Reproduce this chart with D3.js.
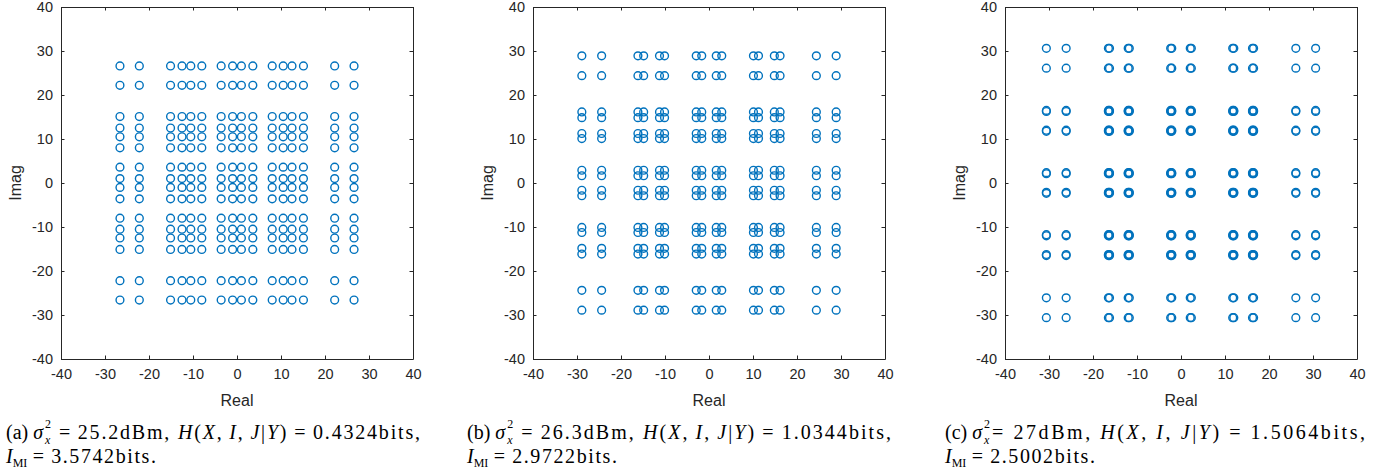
<!DOCTYPE html>
<html>
<head>
<meta charset="utf-8">
<script src="https://cdn.jsdelivr.net/npm/d3@7"></script>
<style>
  body { margin: 0; background: #fff; }
  .tick text { font-family: "Liberation Sans", Arial, sans-serif; font-size: 14.5px; fill: #262626; }
  .axisText { font-family: "Liberation Sans", Arial, sans-serif; font-size: 16px; fill: #262626; }
  .caption { font-family: "Liberation Serif", "Times New Roman", serif; font-size: 20px; fill: #000; }
  .capSmall { font-family: "Liberation Serif", "Times New Roman", serif; font-size: 12px; fill: #000; }
</style>
</head>
<body>
<div class="chart"></div>
<script>
// signal levels (same on real and imag axis)
var levelsA = [-26.6, -22.2, -15.1, -12.5, -10.5, -8.0, -3.6, -1.0, 1.0, 3.6, 8.0, 10.5, 12.5, 15.1, 22.2, 26.6];
var levelsB = [-28.9, -24.4, -16.15, -14.85, -11.25, -10.1, -2.9, -1.65, 1.65, 2.9, 10.1, 11.25, 14.85, 16.15, 24.4, 28.9];
var levelsC = [-30.6, -26.1, -16.5, -16.25, -12.0, -11.75, -2.35, -2.1, 2.1, 2.35, 11.75, 12.0, 16.25, 16.5, 26.1, 30.6];

var tickValues = [-40, -30, -20, -10, 0, 10, 20, 30, 40];

var panelLabels = ["(a)", "(b)", "(c)"];
var sigmaValues = ["25.2", "26.3", "27"];
var entropyValues = ["0.4324", "1.0344", "1.5064"];
var miValues = ["3.5742", "2.9722", "2.5002"];

var svgWidth = 1391;
var svgHeight = 470;
var plotSize = 352;
var plotTop = 7;
var plotLefts = [61, 533, 1005];
var captionLefts = [6, 467, 945];
var captionEnds = [420, 891, 1365];
var blue = "#0072BD";
var axisColor = "#262626";

var svg = d3.select(".chart")
  .append("svg")
  .attr("width", svgWidth)
  .attr("height", svgHeight);

var allLevels = [levelsA, levelsB, levelsC];

allLevels.forEach(function(levels, p) {
  var g = svg.append("g")
    .attr("transform", `translate(${plotLefts[p]}, ${plotTop})`);

  var x = d3.scaleLinear().domain([-40, 40]).range([0, plotSize]);
  var y = d3.scaleLinear().domain([-40, 40]).range([plotSize, 0]);

  // points: every real level paired with every imag level
  var points = [];
  levels.forEach(function(re) {
    levels.forEach(function(im) {
      points.push({ re: re, im: im });
    });
  });

  g.selectAll("circle")
    .data(points)
    .enter()
    .append("circle")
    .attr("cx", d => x(d.re))
    .attr("cy", d => y(d.im))
    .attr("r", 3.9)
    .attr("fill", "none")
    .attr("stroke", blue)
    .attr("stroke-width", 1.4);

  // matlab-style box with inward ticks
  var tl = 3.5;
  var fmt = d => String(d);
  var bottom = g.append("g")
    .attr("transform", `translate(0, ${plotSize})`)
    .call(d3.axisBottom(x).tickValues(tickValues).tickFormat(fmt).tickSizeInner(-tl).tickSizeOuter(0).tickPadding(10));
  var left = g.append("g")
    .call(d3.axisLeft(y).tickValues(tickValues).tickFormat(fmt).tickSizeInner(-tl).tickSizeOuter(0).tickPadding(8));
  var top = g.append("g")
    .call(d3.axisTop(x).tickValues(tickValues).tickSizeInner(-tl).tickSizeOuter(0));
  var right = g.append("g")
    .attr("transform", `translate(${plotSize}, 0)`)
    .call(d3.axisRight(y).tickValues(tickValues).tickSizeInner(-tl).tickSizeOuter(0));
  top.selectAll("text").remove();
  right.selectAll("text").remove();

  [bottom, left, top, right].forEach(function(a) {
    a.selectAll("path, line").attr("stroke", axisColor).attr("stroke-width", 1);
    a.attr("font-size", null).attr("font-family", null);
  });
  bottom.selectAll("text").attr("dy", "0.71em");

  g.append("text")
    .attr("class", "axisText")
    .attr("text-anchor", "middle")
    .attr("x", plotSize / 2)
    .attr("y", plotSize + 47)
    .text("Real");

  g.append("text")
    .attr("class", "axisText")
    .attr("text-anchor", "middle")
    .attr("transform", "rotate(-90)")
    .attr("x", -plotSize / 2)
    .attr("y", -40)
    .text("Imag");

  // caption, line 1: label and sigma, then the rest stretched to the reference width
  var cx = captionLefts[p];
  var sp = p == 2 ? " " : "\u2009";
  var head = svg.append("text")
    .attr("class", "caption")
    .attr("x", cx)
    .attr("y", 439);
  head.append("tspan").text(panelLabels[p] + " ");
  head.append("tspan").attr("font-style", "italic").text("σ");
  var hw = head.node().getComputedTextLength();
  // superscript 2 above subscript x
  svg.append("text").attr("class", "capSmall")
    .attr("x", cx + hw + 2).attr("y", 428).text("2");
  svg.append("text").attr("class", "capSmall").attr("font-style", "italic")
    .attr("x", cx + hw + 2).attr("y", 444).text("x");

  var restX = cx + hw + 10;
  var rest = svg.append("text")
    .attr("class", "caption")
    .attr("x", restX)
    .attr("y", 439);
  rest.append("tspan").text(sp + "=" + sp + sigmaValues[p] + "dBm, ");
  rest.append("tspan").attr("font-style", "italic").text("H");
  rest.append("tspan").text("(");
  rest.append("tspan").attr("font-style", "italic").text("X");
  rest.append("tspan").text("," + sp);
  rest.append("tspan").attr("font-style", "italic").text("I");
  rest.append("tspan").text("," + sp);
  rest.append("tspan").attr("font-style", "italic").text("J");
  rest.append("tspan").text("|");
  rest.append("tspan").attr("font-style", "italic").text("Y");
  rest.append("tspan").text(")" + sp + "=" + sp + entropyValues[p] + "bits,");
  if (rest.node().getComputedTextLength() < captionEnds[p] - restX) {
    rest.attr("textLength", captionEnds[p] - restX).attr("lengthAdjust", "spacing");
  }

  // caption, line 2
  var i1 = svg.append("text")
    .attr("class", "caption")
    .attr("font-style", "italic")
    .attr("x", cx)
    .attr("y", 463)
    .text("I");
  var iw = i1.node().getComputedTextLength();
  svg.append("text").attr("class", "capSmall")
    .attr("x", cx + iw).attr("y", 467).text("MI");
  var line2 = svg.append("text")
    .attr("class", "caption")
    .attr("x", cx + iw + 20)
    .attr("y", 463)
    .text("=\u2009" + miValues[p] + "bits.");
  if (line2.node().getComputedTextLength() < 150 - iw - 20) {
    line2.attr("textLength", 150 - iw - 20).attr("lengthAdjust", "spacing");
  }
});
</script>
</body>
</html>
